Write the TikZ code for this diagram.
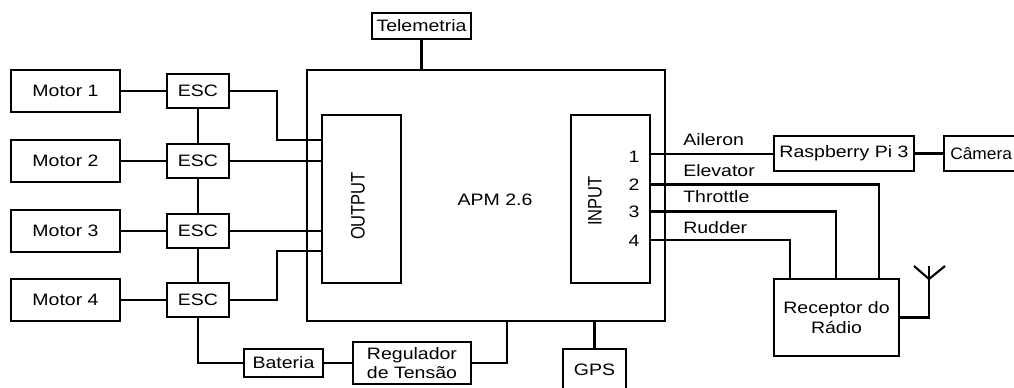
\documentclass[tikz,border=0pt]{standalone}
\usepackage{graphicx}
\usepackage{fontspec}
\setmainfont{Liberation Sans}
\newcommand{\tx}[1]{\scalebox{1.18}[1]{#1}}
\newcommand{\ty}[1]{\scalebox{1}[1.18]{#1}}
\tikzset{
  x=0.75pt,y=-0.75pt,
  every node/.style={font=\fontsize{12.4}{14.5}\selectfont,text=black},
  box/.style={draw=black,line width=1.6pt,inner sep=0pt,align=center,fill=none},
  wire/.style={draw=black,line width=1.6pt,line join=miter},
  lab/.style={inner sep=0pt,anchor=west},
  txt/.style={inner sep=0pt},
}
\newcommand{\bx}[6]{\node[box,minimum width=#4*0.75pt-#2*0.75pt,minimum height=#5*0.75pt-#3*0.75pt] (#1) at ({(#2+#4)/2},{(#3+#5)/2}) {#6};}
\begin{document}
\begin{tikzpicture}
\useasboundingbox (0,0) rectangle (1014,387);
\clip (0,0) rectangle (1014,387);
\bx{tele}{372}{13}{471}{39}{\tx{Telemetria}}
\bx{apm}{307}{70}{665}{321}{}
\bx{out}{322}{115}{401}{283}{}
\bx{inp}{571}{115}{650}{283}{}
\bx{m1}{11}{70}{120}{112}{\tx{Motor 1}}
\bx{m2}{11}{140}{120}{182}{\tx{Motor 2}}
\bx{m3}{11}{210}{120}{252}{\tx{Motor 3}}
\bx{m4}{11}{279}{120}{321}{\tx{Motor 4}}
\bx{e1}{167}{74}{229}{108}{\tx{ESC}}
\bx{e2}{167}{144}{229}{178}{\tx{ESC}}
\bx{e3}{167}{214}{229}{248}{\tx{ESC}}
\bx{e4}{167}{283}{229}{317}{\tx{ESC}}
\bx{bat}{244}{349}{323}{377}{\tx{Bateria}}
\bx{reg}{353}{342}{471}{384}{\tx{Regulador}\\\tx{de Tensão}}
\bx{gps}{563}{349}{626}{400}{}
\node[txt] (gpst) at (594.5,370) {\tx{GPS}};
\bx{rasp}{774}{136}{914}{171}{\tx{Raspberry Pi 3}}
\bx{cam}{944}{136}{1040}{171}{}
\node[lab] (camt) at (950,154) {\scalebox{1.05}[1]{Câmera}};
\bx{rec}{774}{279}{899}{356}{\tx{Receptor do}\\\tx{Rádio}}
\node[txt] (apmt) at (495,200) {\tx{APM 2.6}};
\node[txt,rotate=90] (outt) at (358,206) {\ty{OUTPUT}};
\node[txt,rotate=90] (inpt) at (595,201) {\ty{INPUT}};
\node[txt] (n1) at (634,157) {\tx{1}};
\node[txt] (n2) at (634,185) {\tx{2}};
\node[txt] (n3) at (634,212) {\tx{3}};
\node[txt] (n4) at (634,241) {\tx{4}};
\node[lab] (la) at (683,140) {\tx{Aileron}};
\node[lab] (le) at (683,171) {\tx{Elevator}};
\node[lab] (lt) at (683,197) {\tx{Throttle}};
\node[lab] (lr) at (683,228) {\tx{Rudder}};
\coordinate (o1) at (322,140);
\coordinate (o4) at (322,251);
\coordinate (i1) at (650,154);
\coordinate (i2) at (650,184.5);
\coordinate (i3) at (650,211.5);
\coordinate (i4) at (650,240);
\coordinate (r2) at (879,279);
\coordinate (r3) at (836,279);
\coordinate (r4) at (790,279);
\coordinate (a2) at (929,279);
\coordinate (a3) at (929,266);
\coordinate (a4) at (914,266);
\coordinate (a5) at (945,266);
\coordinate (p1) at (507,321);
\foreach \k in {1,2,3,4} \draw[wire] (m\k.east) -- (e\k.west);
\draw[wire] (e1.south) -- (e2.north);
\draw[wire] (e2.south) -- (e3.north);
\draw[wire] (e3.south) -- (e4.north);
\draw[wire] (e1.east) -- ++(47,0) |- (o1);
\draw[wire] (e2.east) -- (e2.east -| out.west);
\draw[wire] (e3.east) -- (e3.east -| out.west);
\draw[wire] (e4.east) -- ++(47,0) |- (o4);
\draw[wire] (e4.south) |- (bat.west);
\draw[wire] (bat.east) -- (reg.west);
\draw[wire] (reg.east) -| (p1);
\draw[wire] (tele.south) -- (tele.south |- apm.north);
\draw[wire] (gps.north) -- (gps.north |- apm.south);
\draw[wire] (i1) -- (i1 -| rasp.west);
\draw[wire] (rasp.east) -- (cam.west);
\draw[wire] (i2) -| (r2);
\draw[wire] (i3) -| (r3);
\draw[wire] (i4) -| (r4);
\draw[wire] (rec.east) -| (a3);
\draw[wire] (a4) -- (a2) -- (a5);
\end{tikzpicture}
\end{document}
